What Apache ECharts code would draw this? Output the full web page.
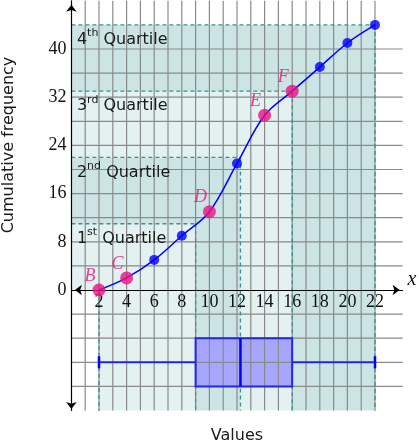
<!DOCTYPE html>
<html><head><meta charset="utf-8">
<script src="https://cdn.jsdelivr.net/npm/echarts@6/dist/echarts.min.js"></script>
<style>html,body{margin:0;padding:0;background:#fff}#c{width:419px;height:444px}</style>
</head><body><div id="c"></div>
<script>
// ---- data ----
const xValues = [2, 4, 6, 8, 10, 12, 14, 16, 18, 20, 22];
const cumFreq = [0, 2, 5, 9, 13, 21, 29, 33, 37, 41, 44];
const pointNames = ['B', 'C', '', '', 'D', '', 'E', 'F', '', '', ''];
const xTickLabels = ['2', '4', '6', '8', '10', '12', '14', '16', '18', '20', '22'];
const yTickLabels = ['0', '8', '16', '24', '32', '40'];
const quartileCounts = [11, 22, 33, 44];
const quartileValues = [9, 12.25, 16, 22];
const minValue = 2;
const quartileOrdinals = [['1', 'st'], ['2', 'nd'], ['3', 'rd'], ['4', 'th']];
const boxStats = [2, 9, 12.25, 16, 22]; // min, Q1, median, Q3, max

// ---- layout / style constants ----
const Y_BOTTOM = -20, Y_TOP = 48, X_RIGHT = 24;
const BOX_LOW = -16, BOX_HIGH = -8, BOX_MID = -12;
const LIGHT = '#e3f1f1', DARK = '#cce4e4';
const DASH = '#3b9090', GRIDC = '#8a8a8a';
const MAG = '#ea1283', BLUE = '#0000ff';
const SERIF = '"Liberation Serif", "DejaVu Serif", serif';
const SANS = '"DejaVu Sans", sans-serif';

const chart = echarts.init(document.getElementById('c'));

function shadingItem(params, api) {
  const children = [];
  let prevCount = 0, prevVal = minValue;
  for (let k = 0; k < quartileCounts.length; k++) {
    const c = quartileCounts[k], v = quartileValues[k];
    const fill = k % 2 === 0 ? LIGHT : DARK;
    const a = api.coord([0, c]), b = api.coord([v, prevCount]);
    children.push({type: 'rect', shape: {x: a[0], y: a[1], width: b[0] - a[0], height: b[1] - a[1]}, style: {fill: fill}});
    const d = api.coord([prevVal, c]), e = api.coord([v, Y_BOTTOM]);
    children.push({type: 'rect', shape: {x: d[0], y: d[1], width: e[0] - d[0], height: e[1] - d[1]}, style: {fill: fill}});
    prevCount = c; prevVal = v;
  }
  return {type: 'group', children: children};
}

function line(api, p1, p2, style) {
  const a = api.coord(p1), b = api.coord(p2);
  return {type: 'line', shape: {x1: a[0], y1: a[1], x2: b[0], y2: b[1]}, style: style};
}

function gridItem(params, api) {
  const children = [];
  const st = {stroke: GRIDC, lineWidth: 1.2};
  for (let x = 1; x <= quartileValues[quartileValues.length - 1]; x++) {
    children.push(line(api, [x, Y_BOTTOM], [x, Y_TOP], st));
  }
  for (let y = Y_BOTTOM + 4; y <= 40; y += 4) {
    if (y === 0) continue;
    children.push(line(api, [0, y], [X_RIGHT, y], st));
  }
  return {type: 'group', children: children};
}

function dashedItem(params, api) {
  const children = [];
  const st = {stroke: DASH, lineWidth: 1.3, lineDash: [4, 3]};
  for (let k = 0; k < quartileCounts.length; k++) {
    const c = quartileCounts[k], v = quartileValues[k];
    children.push(line(api, [0, c], [v, c], st));
    children.push(line(api, [v, c], [v, Y_BOTTOM], st));
  }
  children.push(line(api, [minValue, 0], [minValue, Y_BOTTOM], st));
  return {type: 'group', children: children};
}

function boxFillItem(params, api) {
  const a = api.coord([boxStats[1], BOX_HIGH]), b = api.coord([boxStats[3], BOX_LOW]);
  return {type: 'rect', shape: {x: a[0], y: a[1], width: b[0] - a[0], height: b[1] - a[1]}, style: {fill: '#a6a6ff'}};
}

function boxLineItem(params, api) {
  const st = {stroke: '#2626e6', lineWidth: 2};
  const a = api.coord([boxStats[1], BOX_HIGH]), b = api.coord([boxStats[3], BOX_LOW]);
  return {type: 'group', children: [
    {type: 'rect', shape: {x: a[0], y: a[1], width: b[0] - a[0], height: b[1] - a[1]}, style: {fill: 'none', stroke: '#2626e6', lineWidth: 2}},
    line(api, [boxStats[2], BOX_HIGH], [boxStats[2], BOX_LOW], {stroke: BLUE, lineWidth: 2.5}),
    line(api, [boxStats[0], BOX_MID], [boxStats[1], BOX_MID], st),
    line(api, [boxStats[3], BOX_MID], [boxStats[4], BOX_MID], st),
    line(api, [boxStats[0], BOX_MID - 1], [boxStats[0], BOX_MID + 1], {stroke: BLUE, lineWidth: 2.5}),
    line(api, [boxStats[4], BOX_MID - 1], [boxStats[4], BOX_MID + 1], {stroke: BLUE, lineWidth: 2.5})
  ]};
}

function quartileLabelItem(params, api) {
  const children = [];
  for (let k = 0; k < quartileCounts.length; k++) {
    const p = api.coord([0.4, quartileCounts[k] - 2.5]);
    children.push({type: 'text', x: p[0], y: p[1], style: {
      text: '{n|' + quartileOrdinals[k][0] + '}{s|' + quartileOrdinals[k][1] + '}{n| Quartile}',
      align: 'left', verticalAlign: 'middle',
      rich: {
        n: {fontFamily: SANS, fontSize: 16, fill: '#1a1a1a', lineHeight: 24, verticalAlign: 'middle'},
        s: {fontFamily: SANS, fontSize: 11, fill: '#1a1a1a', lineHeight: 12, verticalAlign: 'top'}
      }
    }});
  }
  return {type: 'group', children: children};
}

function xLabelItem(params, api) {
  const children = xTickLabels.map(t => {
    const p = api.coord([Number(t), 0]);
    return {type: 'text', x: p[0], y: p[1] + 3, style: {text: t, font: '18px ' + SERIF, fill: '#111', align: 'center', verticalAlign: 'top'}};
  });
  return {type: 'group', children: children};
}

const pointData = xValues.map((x, i) => ({
  value: [x, cumFreq[i]],
  name: pointNames[i],
  symbolSize: pointNames[i] ? 13 : 10,
  itemStyle: {color: pointNames[i] ? MAG : BLUE},
  label: {show: !!pointNames[i]}
}));

chart.setOption({
  animation: false,
  grid: {left: 71.4, right: 16.4, top: 0.8, bottom: 33.5, containLabel: false},
  xAxis: {
    type: 'value', min: 0, max: X_RIGHT, interval: 2, z: 10,
    axisLine: {show: true, onZero: true, lineStyle: {color: '#000', width: 1.2},
      symbol: ['arrow', 'arrow'], symbolSize: [8, 7], symbolOffset: [3.5, -3]},
    axisTick: {show: false}, splitLine: {show: false}, axisLabel: {show: false}
  },
  yAxis: {
    type: 'value', min: Y_BOTTOM, max: Y_TOP, interval: 4, z: 10,
    axisLine: {show: true, onZero: true, lineStyle: {color: '#000', width: 1.2},
      symbol: ['arrow', 'arrow'], symbolSize: [8, 7], symbolOffset: [1.5, -4]},
    axisTick: {show: false}, splitLine: {show: false},
    axisLabel: {margin: 5, fontFamily: SERIF, fontSize: 18, color: '#111',
      formatter: v => { const i = yTickLabels.indexOf(String(v)); return i >= 0 ? yTickLabels[i] : ''; }}
  },
  graphic: [
    {type: 'text', x: 237, y: 436, style: {text: 'Values', font: '16px ' + SANS, fill: '#1a1a1a', align: 'center', verticalAlign: 'middle'}},
    {type: 'text', x: 9, y: 145, rotation: Math.PI / 2, style: {text: 'Cumulative frequency', font: '16px ' + SANS, fill: '#1a1a1a', align: 'center', verticalAlign: 'middle'}},
    {type: 'text', x: 412, y: 280, style: {text: 'x', font: 'italic 20px ' + SERIF, fill: '#111', align: 'center', verticalAlign: 'middle'}}
  ],
  series: [
    {type: 'custom', z: 1, clip: false, silent: true, renderItem: shadingItem, data: [[0, 0]]},
    {type: 'custom', z: 2, clip: false, silent: true, renderItem: boxFillItem, data: [[0, 0]]},
    {type: 'custom', z: 3, clip: false, silent: true, renderItem: gridItem, data: [[0, 0]]},
    {type: 'custom', z: 4, clip: false, silent: true, renderItem: dashedItem, data: [[0, 0]]},
    {type: 'custom', z: 5, clip: false, silent: true, renderItem: quartileLabelItem, data: [[0, 0]]},
    {type: 'custom', z: 6, clip: false, silent: true, renderItem: boxLineItem, data: [[0, 0]]},
    {type: 'custom', z: 11, clip: false, silent: true, renderItem: xLabelItem, data: [[0, 0]]},
    {type: 'line', z: 12, data: xValues.map((x, i) => [x, cumFreq[i]]), smooth: 0.35, showSymbol: false,
      lineStyle: {color: BLUE, width: 1.5}},
    {type: 'scatter', z: 14, data: pointData,
      label: {position: 'inside', offset: [-9, -14], formatter: p => p.name,
        fontFamily: SERIF, fontStyle: 'italic', fontSize: 18, color: MAG}}
  ]
});
</script></body></html>
